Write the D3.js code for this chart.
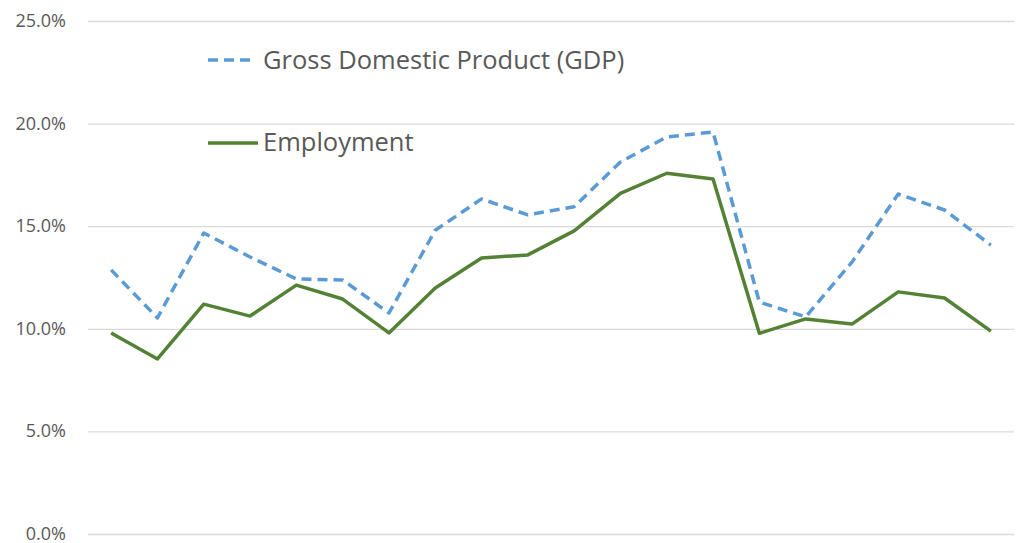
<!doctype html>
<html>
<head>
<meta charset="UTF-8">
<title>GDP vs Employment</title>
<script src="https://d3js.org/d3.v7.min.js"></script>
<style>
  body { margin: 0; background: #fff; }
  text { font-family: "Open Sans", "Liberation Sans", sans-serif; fill: #595959; }
</style>
</head>
<body>
<svg id="chart" width="1023" height="543"></svg>
<script>
// chart data
var periods = d3.range(1, 21);
var gdp = [12.87, 10.53, 14.67, 13.5, 12.43, 12.38, 10.77, 14.8, 16.33, 15.55,
           15.95, 18.13, 19.35, 19.59, 11.3, 10.58, 13.25, 16.57, 15.79, 14.08];
var employment = [9.8, 8.53, 11.2, 10.62, 12.13, 11.45, 9.8, 11.99, 13.45, 13.6,
                  14.77, 16.6, 17.58, 17.3, 9.78, 10.48, 10.23, 11.8, 11.5, 9.89];
var yTicks = [0, 5, 10, 15, 20, 25];
var seriesNames = ["Gross Domestic Product (GDP)", "Employment"];

var svg = d3.select("#chart");
var plotLeft = 88, plotRight = 1014, plotTop = 21, plotBottom = 534;

var x = d3.scalePoint().domain(periods).range([plotLeft, plotRight]).padding(0.5);
var y = d3.scaleLinear().domain([0, 25]).range([plotBottom, plotTop]);

// gridlines + labels
var yAxis = d3.axisLeft(y).tickValues(yTicks)
  .tickSize(-(plotRight - plotLeft)).tickPadding(22)
  .tickFormat(function(d){ return d.toFixed(1) + "%"; });
var g = svg.append("g").attr("transform", "translate(" + plotLeft + ",0)").call(yAxis);
g.select(".domain").remove();
g.selectAll(".tick line").attr("stroke", "#d9d9d9").attr("stroke-width", 1.3);
g.selectAll(".tick text").attr("font-size", 18).attr("fill", "#595959")
  .attr("font-family", "'Open Sans', sans-serif").attr("dy", "0.3em");

var line = d3.line()
  .x(function(d, i){ return x(periods[i]); })
  .y(function(d){ return y(d); });

svg.append("path").datum(gdp)
  .attr("d", line)
  .attr("fill", "none")
  .attr("stroke", "#5B9BD5")
  .attr("stroke-width", 3.5)
  .attr("stroke-dasharray", "10,6")
  .attr("stroke-linejoin", "round");

svg.append("path").datum(employment)
  .attr("d", line)
  .attr("fill", "none")
  .attr("stroke", "#548235")
  .attr("stroke-width", 3.5)
  .attr("stroke-linejoin", "round");

// legend
var legend = svg.append("g");
legend.append("line").attr("x1", 208).attr("x2", 254).attr("y1", 60).attr("y2", 60)
  .attr("stroke", "#5B9BD5").attr("stroke-width", 3.5).attr("stroke-dasharray", "10,6");
legend.append("text").attr("x", 263).attr("y", 69).attr("font-size", 25.5).text(seriesNames[0]);
legend.append("line").attr("x1", 208).attr("x2", 258).attr("y1", 143).attr("y2", 143)
  .attr("stroke", "#548235").attr("stroke-width", 3.5);
legend.append("text").attr("x", 263).attr("y", 151).attr("font-size", 25.5).text(seriesNames[1]);
</script>
</body>
</html>
